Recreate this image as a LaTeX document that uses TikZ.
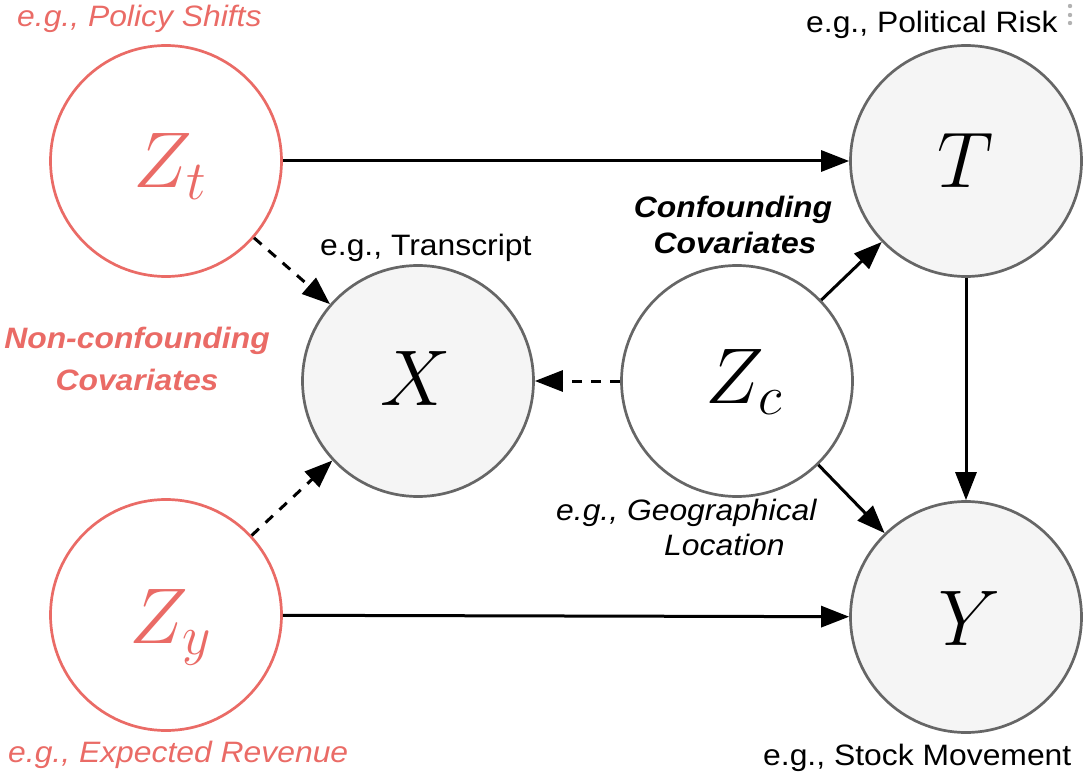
\documentclass[tikz,border=0pt]{standalone}
\usepackage{fix-cm}
\usepackage{fontspec}
\newfontfamily\lab[FakeStretch=1.08]{Liberation Sans}
\usetikzlibrary{arrows.meta}
\definecolor{salmon}{HTML}{EA6B66}
\definecolor{grayline}{HTML}{666666}
\definecolor{grayfill}{HTML}{F5F5F5}
\begin{document}
\begin{tikzpicture}[x=1pt,y=-1pt,
  var/.style={circle, minimum size=231pt, inner sep=0pt, line width=2.7pt},
  redvar/.style={var, draw=salmon, fill=white},
  obs/.style={var, draw=grayline, fill=grayfill},
  hid/.style={var, draw=grayline, fill=white},
  mlbl/.style={inner sep=0pt, anchor=base, font=\fontsize{79}{90}\selectfont},
  txt/.style={inner sep=0pt, anchor=base west, font=\lab\fontsize{29.5}{34}\selectfont},
  txtit/.style={inner sep=0pt, anchor=base west, font=\lab\itshape\fontsize{29.5}{34}\selectfont},
  txtbi/.style={inner sep=0pt, anchor=base, font=\lab\bfseries\itshape\fontsize{29.5}{34}\selectfont},
  arr/.style={line width=3pt, -{Triangle[length=28pt,width=21pt]}},
  darr/.style={arr, dash pattern=on 10pt off 9pt},
]
\useasboundingbox (0,0) rectangle (1085,773);

% circles
\node[redvar] (Zt) at (166,161) {};
\node[obs]    (T)  at (966,161) {};
\node[obs]    (X)  at (418,381) {};
\node[hid]    (Zc) at (737,381) {};
\node[redvar] (Zy) at (166,615) {};
\node[obs]    (Y)  at (966,617) {};

% math labels
\node[mlbl, text=salmon] (Ztl) at (170,188) {$Z_t$};
\node[mlbl] (Tl)  at (966,187) {$T$};
\node[mlbl] (Xl)  at (416,405) {$X$};
\node[mlbl] (Zcl) at (744,403) {$Z_c$};
\node[mlbl, text=salmon] (Zyl) at (170,643) {$Z_y$};
\node[mlbl] (Yl)  at (970,645) {$Y$};

% text labels
\node[txtit, text=salmon] (ps) at (17,27) {e.g., Policy Shifts};
\node[txt] (pr) at (806,33) {e.g., Political Risk};
\node[txt] (tr) at (320,255) {e.g., Transcript};
\node[txtbi] (cf1) at (733,218) {Confounding};
\node[txtbi] (cf2) at (735,253) {Covariates};
\node[txtbi, text=salmon] (nc1) at (137,348) {Non-confounding};
\node[txtbi, text=salmon] (nc2) at (137,390) {Covariates};
\node[txtit] (geo1) at (556,520) {e.g., Geographical};
\node[txtit] (geo2) at (664,555) {Location};
\node[txtit, text=salmon] (er) at (8,762) {e.g., Expected Revenue};
\node[txt] (sm) at (763,765) {e.g., Stock Movement};

% small dots
\fill[gray!60] (1070,6) circle (2.2pt);
\fill[gray!60] (1070,15) circle (2.2pt);
\fill[gray!60] (1070,23) circle (2.2pt);

% connectors
\draw[arr] (Zt) -- (T);
\draw[arr] (Zy) -- (Y);
\draw[arr] (T) -- (Y);
\draw[arr] (Zc) -- (T);
\draw[arr] (Zc) -- (Y);
\draw[darr] (Zc) -- (X);
\draw[darr] (Zt) -- (X);
\draw[darr] (Zy) -- (X);
\end{tikzpicture}
\end{document}
